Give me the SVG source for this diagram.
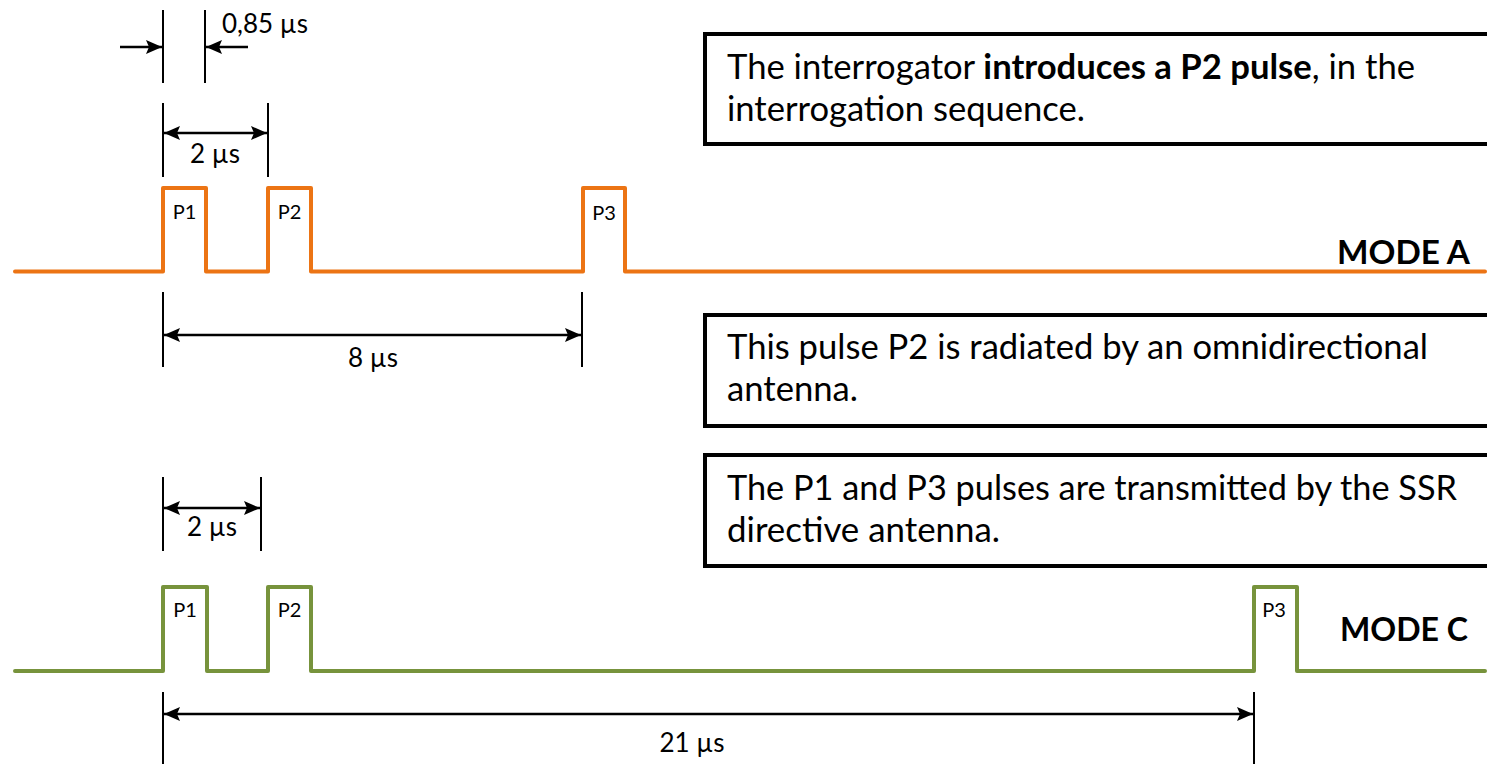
<svg xmlns="http://www.w3.org/2000/svg" width="1487" height="764" viewBox="0 0 1487 764">
  <style>
    .wa { fill: none; stroke: #EC7414; stroke-width: 4; stroke-linejoin: round; stroke-linecap: round; }
    .wc { fill: none; stroke: #77933C; stroke-width: 4; stroke-linejoin: round; stroke-linecap: round; }
    .box { fill: #FFFFFF; stroke: #000000; stroke-width: 4; }
    .bt { font-family: Lato, "Liberation Sans", sans-serif; font-size: 34px; fill: #000; }
    .b { font-weight: bold; }
    .mode { font-family: Lato, "Liberation Sans", sans-serif; font-size: 33px; font-weight: bold; fill: #000; }
    .pl { font-family: Lato, "Liberation Sans", sans-serif; font-size: 20px; fill: #000; text-anchor: middle; }
    .dl { font-family: Lato, "Liberation Sans", sans-serif; font-size: 26px; fill: #000; }
    .tick { stroke: #000; stroke-width: 2; }
    .dim { stroke: #000; stroke-width: 2.5; fill: none; }
  </style>
  <defs>
    <marker id="ah" viewBox="0 0 16 14" refX="16" refY="7" markerWidth="16" markerHeight="14" markerUnits="userSpaceOnUse" orient="auto-start-reverse">
      <path d="M0,0 L16,7 L0,14 L3,7 z" fill="#000"/>
    </marker>
  </defs>

  <rect width="1487" height="764" fill="#FFFFFF"/>

  <!-- Mode A waveform -->
  <g id="waveform-mode-a">
    <path class="wa" d="M15,271.5 H163 V188 H206 V271.5 H268 V188 H311 V271.5 H583 V188 H625 V271.5 H1485"/>
    <text class="pl" x="184.5" y="219">P1</text>
    <text class="pl" x="289.5" y="219">P2</text>
    <text class="pl" x="604" y="220">P3</text>
    <text class="mode" x="1337" y="264" textLength="133" lengthAdjust="spacingAndGlyphs">MODE A</text>
  </g>

  <!-- Mode C waveform -->
  <g id="waveform-mode-c">
    <path class="wc" d="M15,671 H163 V587 H207 V671 H268 V587 H311 V671 H1254 V587 H1297 V671 H1485"/>
    <text class="pl" x="185" y="617">P1</text>
    <text class="pl" x="289.5" y="617">P2</text>
    <text class="pl" x="1274" y="617">P3</text>
    <text class="mode" x="1340" y="641" textLength="128" lengthAdjust="spacingAndGlyphs">MODE C</text>
  </g>

  <!-- Text boxes -->
  <g id="box-1">
    <rect class="box" x="705" y="34" width="800" height="110"/>
    <text class="bt" x="727" y="79" textLength="688" lengthAdjust="spacingAndGlyphs">The interrogator <tspan class="b">introduces a P2 pulse</tspan>, in the</text>
    <text class="bt" x="727" y="121" textLength="358" lengthAdjust="spacingAndGlyphs">interrogation sequence.</text>
  </g>
  <g id="box-2">
    <rect class="box" x="705" y="315" width="800" height="111"/>
    <text class="bt" x="727" y="359" textLength="701" lengthAdjust="spacingAndGlyphs">This pulse P2 is radiated by an omnidirectional</text>
    <text class="bt" x="727" y="401" textLength="131" lengthAdjust="spacingAndGlyphs">antenna.</text>
  </g>
  <g id="box-3">
    <rect class="box" x="705" y="455" width="800" height="111"/>
    <text class="bt" x="727" y="500" textLength="730" lengthAdjust="spacingAndGlyphs">The P1 and P3 pulses are transmitted by the SSR</text>
    <text class="bt" x="727" y="542" textLength="273" lengthAdjust="spacingAndGlyphs">directive antenna.</text>
  </g>

  <!-- Dimension connectors -->
  <g id="connectors">
    <!-- 0,85 us -->
    <line class="tick" x1="163" y1="10" x2="163" y2="83"/>
    <line class="tick" x1="205" y1="10" x2="205" y2="83"/>
    <line class="dim" x1="120" y1="47" x2="162" y2="47" marker-end="url(#ah)"/>
    <line class="dim" x1="248" y1="47" x2="206" y2="47" marker-end="url(#ah)"/>
    <!-- 2 us (mode A) -->
    <line class="tick" x1="163" y1="103" x2="163" y2="177"/>
    <line class="tick" x1="268" y1="103" x2="268" y2="177"/>
    <line class="dim" x1="164" y1="133" x2="267" y2="133" marker-start="url(#ah)" marker-end="url(#ah)"/>
    <!-- 8 us -->
    <line class="tick" x1="163" y1="292" x2="163" y2="367"/>
    <line class="tick" x1="582" y1="292" x2="582" y2="367"/>
    <line class="dim" x1="164" y1="335" x2="581" y2="335" marker-start="url(#ah)" marker-end="url(#ah)"/>
    <!-- 2 us (mode C) -->
    <line class="tick" x1="163" y1="477" x2="163" y2="551"/>
    <line class="tick" x1="261" y1="477" x2="261" y2="551"/>
    <line class="dim" x1="164" y1="508" x2="260" y2="508" marker-start="url(#ah)" marker-end="url(#ah)"/>
    <!-- 21 us -->
    <line class="tick" x1="163" y1="692" x2="163" y2="764"/>
    <line class="tick" x1="1254" y1="692" x2="1254" y2="764"/>
    <line class="dim" x1="164" y1="714" x2="1253" y2="714" marker-start="url(#ah)" marker-end="url(#ah)"/>
  </g>

  <g id="dimension-labels">
    <text class="dl" x="222" y="33">0,85 µs</text>
    <text class="dl" x="215" y="163" text-anchor="middle">2 µs</text>
    <text class="dl" x="373" y="367" text-anchor="middle">8 µs</text>
    <text class="dl" x="212" y="536" text-anchor="middle">2 µs</text>
    <text class="dl" x="692" y="752" text-anchor="middle">21 µs</text>
  </g>
</svg>
